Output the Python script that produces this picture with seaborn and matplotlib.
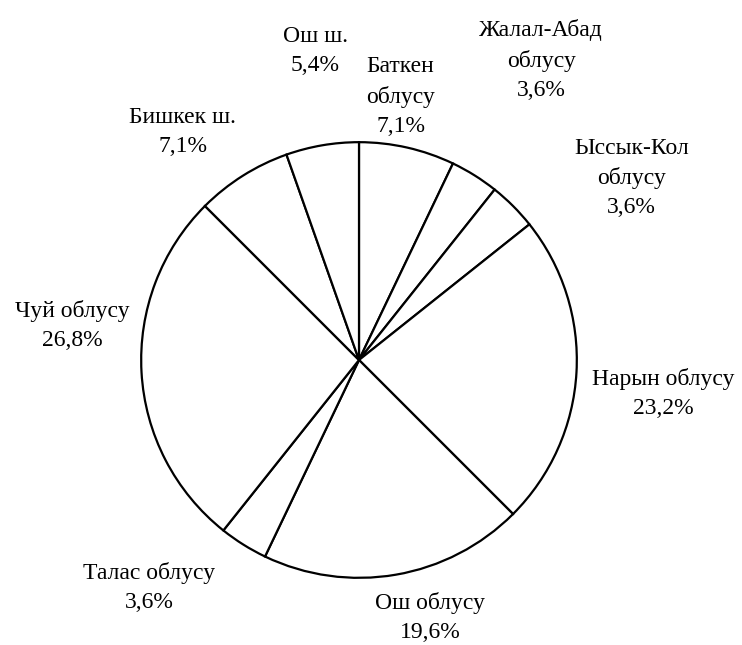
import matplotlib
matplotlib.use("Agg")
import matplotlib.pyplot as plt
import seaborn as sns

sns.set_theme(style="white")
plt.rcParams['font.family'] = ['Liberation Serif', 'DejaVu Serif']

# data, clockwise from 12 o'clock
regions = ["Баткен\nоблусу", "Жалал-Абад\nоблусу", "Ыссык-Кол\nоблусу",
           "Нарын облусу", "Ош облусу", "Талас облусу", "Чуй облусу",
           "Бишкек ш.", "Ош ш."]
shares = [7.1, 3.6, 3.6, 23.2, 19.6, 3.6, 26.8, 7.1, 5.4]
pct_labels = ["7,1%", "3,6%", "3,6%", "23,2%", "19,6%", "3,6%", "26,8%", "7,1%", "5,4%"]

# label placement (in pie-radius units)
label_pos = [(0.191, 1.209), (0.836, 1.377), (1.25, 0.836), (1.395, -0.155),
             (0.327, -1.182), (-0.964, -1.045), (-1.314, 0.159), (-0.809, 1.045),
             (-0.2, 1.418)]

fig = plt.figure(figsize=(7.42, 6.45), dpi=100)
ax = fig.add_axes([(359 - 220) / 742, (645 - 580) / 645, 440 / 742, 440 / 645])

ax.pie(shares, startangle=90, counterclock=False, colors=["white"] * len(shares),
       wedgeprops=dict(edgecolor="black", linewidth=1.6))

for name, pct, (x, y) in zip(regions, pct_labels, label_pos):
    ax.text(x, y, f"{name}\n{pct}", ha="center", va="center", fontsize=17,
            linespacing=1.5, color="black")

ax.set_xlim(-1.01, 1.01)
ax.set_ylim(-1.01, 1.01)
fig.savefig("out.png", dpi=100)
